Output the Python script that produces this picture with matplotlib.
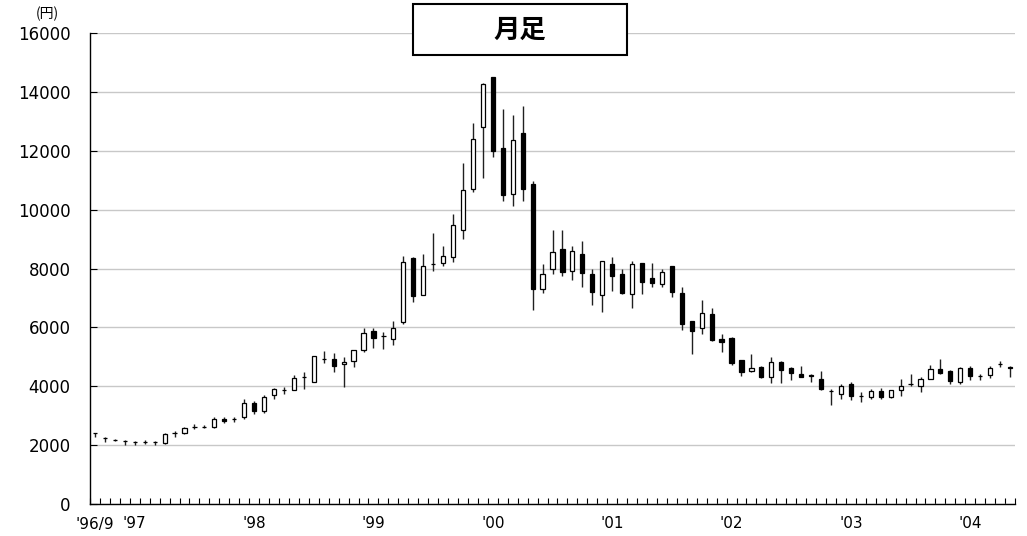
import matplotlib.pyplot as plt
import matplotlib.patches as mpatches
import numpy as np
import pandas as pd

# monthly candles, '96/9 .. '04/5
months = pd.period_range('1996-09', periods=93, freq='M')

opens = [2400, 2240, 2170, 2130, 2100, 2100, 2090, 2070, 2400, 2400,
         2620, 2620, 2600, 2880, 2880, 2940, 3430, 3160, 3700, 3870,
         3870, 4310, 4150, 4940, 4940, 4770, 4860, 5240, 5870, 5700,
         5620, 6180, 8360, 7110, 8150, 8190, 8390, 9310, 10700, 12790,
         14490, 12090, 10530, 12590, 10870, 7300, 7990, 8670, 7910, 8480,
         7800, 7090, 8160, 7800, 7120, 8180, 7690, 7480, 8070, 7180,
         6200, 5990, 6440, 5590, 5650, 4880, 4520, 4660, 4320, 4820,
         4620, 4430, 4370, 4230, 3850, 3720, 4060, 3660, 3640, 3840,
         3620, 3870, 4070, 4020, 4240, 4600, 4520, 4150, 4620, 4340,
         4370, 4740, 4640]
highs = [2400, 2290, 2210, 2180, 2150, 2180, 2130, 2400, 2480, 2600,
         2720, 2680, 2950, 2970, 2960, 3570, 3490, 3700, 3950, 3980,
         4380, 4500, 5030, 5190, 5130, 5000, 5240, 5990, 5990, 5840,
         6210, 8440, 8380, 8490, 9200, 8780, 9850, 11600, 12930, 14300,
         14500, 13430, 13220, 13530, 10980, 8160, 9310, 9300, 8780, 8950,
         7990, 8270, 8390, 7990, 8240, 8200, 8180, 7990, 8100, 7370,
         6210, 6920, 6670, 5790, 5660, 4900, 5090, 4700, 4990, 4850,
         4660, 4690, 4430, 4510, 3920, 4070, 4150, 3810, 3920, 3930,
         3880, 4230, 4410, 4320, 4710, 4910, 4540, 4650, 4680, 4430,
         4700, 4850, 4700]
lows = [2290, 2090, 2130, 2010, 2000, 2040, 2010, 2050, 2290, 2390,
        2550, 2570, 2590, 2750, 2800, 2880, 3050, 3100, 3550, 3750,
        3860, 3920, 4140, 4800, 4480, 3980, 4650, 5160, 5300, 5280,
        5390, 6100, 6860, 7100, 7930, 8100, 8210, 9010, 10590, 11080,
        11800, 10280, 10140, 10280, 6600, 7160, 7820, 7760, 7620, 7370,
        6750, 6520, 7230, 7130, 6670, 7130, 7370, 7370, 7030, 5900,
        5090, 5790, 5550, 5160, 4720, 4360, 4480, 4280, 4110, 4110,
        4200, 4300, 4150, 3880, 3360, 3560, 3530, 3450, 3560, 3560,
        3600, 3660, 4000, 3810, 4230, 4430, 4060, 4090, 4200, 4200,
        4280, 4660, 4300]
closes = [2400, 2240, 2170, 2130, 2100, 2100, 2090, 2390, 2400, 2590,
          2620, 2620, 2900, 2820, 2880, 3430, 3160, 3640, 3890, 3870,
          4280, 4310, 5020, 4940, 4700, 4840, 5220, 5810, 5640, 5700,
          5980, 8220, 7060, 8080, 8150, 8440, 9480, 10680, 12400, 14270,
          12000, 10480, 12360, 10700, 7300, 7820, 8550, 7880, 8590, 7840,
          7190, 8240, 7730, 7180, 8140, 7540, 7500, 7870, 7200, 6100,
          5880, 6490, 5560, 5500, 4800, 4490, 4630, 4320, 4810, 4540,
          4450, 4320, 4340, 3890, 3850, 4010, 3670, 3660, 3840, 3620,
          3870, 4000, 4070, 4240, 4570, 4450, 4170, 4610, 4340, 4340,
          4630, 4740, 4610]

yticks = [0, 2000, 4000, 6000, 8000, 10000, 12000, 14000, 16000]

o = np.array(opens)
h = np.array(highs)
l = np.array(lows)
c = np.array(closes)
x = np.arange(len(months))

fig = plt.figure(figsize=(10.27, 5.36), dpi=100)
ax = fig.add_axes([90 / 1027, 32 / 536, 925 / 1027, 471 / 536])

# wicks then bodies
ax.vlines(x, l, h, color='#202020', linewidth=1, zorder=2)
up = c >= o
body_bottom = np.minimum(o, c)
body_height = np.abs(c - o)
ax.bar(x[up], body_height[up], bottom=body_bottom[up], width=0.42,
       color='white', edgecolor='black', linewidth=0.9, zorder=3)
ax.bar(x[~up], body_height[~up], bottom=body_bottom[~up], width=0.42,
       color='black', edgecolor='black', linewidth=0.9, zorder=3)

ax.set_xlim(-0.5, len(months) - 0.5)
ax.set_ylim(0, 16000)
ax.set_yticks(yticks)
ax.set_yticklabels([str(v) for v in yticks], fontsize=12)
ax.yaxis.grid(True, color='#c8c8c8', linewidth=1)
ax.set_axisbelow(True)

# year labels under January candles (and the first month)
lab_pos = [0] + [i for i, m in enumerate(months) if m.month == 1]
lab_txt = ["'96/9"] + ["'" + str(months[i].year)[2:] for i in lab_pos[1:]]
ax.set_xticks(lab_pos)
ax.set_xticklabels(lab_txt, fontsize=11)
ax.set_xticks(np.arange(len(months) + 1) - 0.5, minor=True)
ax.tick_params(axis='x', which='major', length=0, pad=9)
ax.tick_params(axis='x', which='minor', direction='in', length=4, width=0.8)
ax.tick_params(axis='y', direction='in', length=5, width=0.8, pad=14)

for s in ['top', 'right']:
    ax.spines[s].set_visible(False)
for s in ['left', 'bottom']:
    ax.spines[s].set_linewidth(1)

fig.text(47 / 1027, 1 - 14 / 536, '(円)', fontsize=10, ha='center', va='center',
         family=['Noto Sans CJK JP', 'DejaVu Sans'])

box = mpatches.Rectangle((413 / 1027, 1 - 55 / 536), 214 / 1027, 51 / 536,
                         transform=fig.transFigure, facecolor='white',
                         edgecolor='black', linewidth=1.5, zorder=5)
fig.patches.append(box)
fig.text(520 / 1027, 1 - 30 / 536, '月足', fontsize=19, fontweight='bold',
         ha='center', va='center', family=['Noto Sans CJK JP', 'DejaVu Sans'],
         zorder=6)

fig.savefig('out.png', dpi=100)
